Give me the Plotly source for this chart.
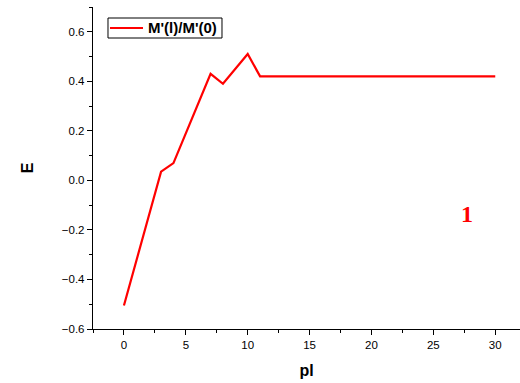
import plotly.graph_objects as go

pl = [0, 3, 4, 7, 8, 10, 11, 30]
E = [-0.505, 0.035, 0.07, 0.43, 0.39, 0.51, 0.42, 0.42]
series_name = "M'(l)/M'(0)"

RED = "#ff0000"
fig = go.Figure()
fig.add_trace(go.Scatter(x=pl, y=E, mode="lines", name=series_name,
                         line=dict(color=RED, width=2.2), showlegend=False))

fig.add_annotation(x=27.7, y=-0.135, text="<b>1</b>", showarrow=False,
                   font=dict(family="Liberation Serif, Times New Roman, serif", size=24, color=RED))

# legend box drawn in paper coordinates
fig.add_shape(type="rect", xref="paper", yref="paper", x0=0.0351, x1=0.3021, y0=0.9037, y1=0.9658,
              line=dict(color="black", width=1), fillcolor="white", layer="above")
fig.add_shape(type="line", xref="paper", yref="paper", x0=0.0398, x1=0.1171, y0=0.9348, y1=0.9348,
              line=dict(color=RED, width=2.2), layer="above")
fig.add_annotation(xref="paper", yref="paper", x=0.1245, y=0.9348, xanchor="left", yanchor="middle",
                   text="<b>" + series_name + "</b>", showarrow=False,
                   font=dict(family="Liberation Sans, Arial", size=15, color="black"))

axis_common = dict(showline=True, linecolor="black", linewidth=1.4, ticks="outside",
                   ticklen=5, tickwidth=1, tickcolor="black", showgrid=False, zeroline=False,
                   tickfont=dict(family="Liberation Sans, Arial", size=11.5, color="black"),
                   minor=dict(ticks="outside", ticklen=3, tickwidth=1, tickcolor="black"))

fig.update_xaxes(range=[-2.5, 32.0], tick0=0, dtick=5, minor_dtick=2.5,
                 title=dict(text="<b>pl</b>", font=dict(family="Liberation Sans, Arial", size=16, color="black"), standoff=14),
                 **axis_common)
fig.update_yaxes(range=[-0.6, 0.7], tick0=-0.6, dtick=0.2, minor_dtick=0.1, tickformat=".1f",
                 title=dict(text="<b>E</b>", font=dict(family="Liberation Sans, Arial", size=16, color="black"), standoff=24),
                 **axis_common)

fig.update_layout(
    width=520, height=383,
    margin=dict(l=93, r=0, t=7, b=54),
    plot_bgcolor="white", paper_bgcolor="white",
    showlegend=False,
)

fig.write_html("out.html", config={"displayModeBar": False},
               post_script="document.body.style.margin='0';document.body.style.overflow='hidden';")
